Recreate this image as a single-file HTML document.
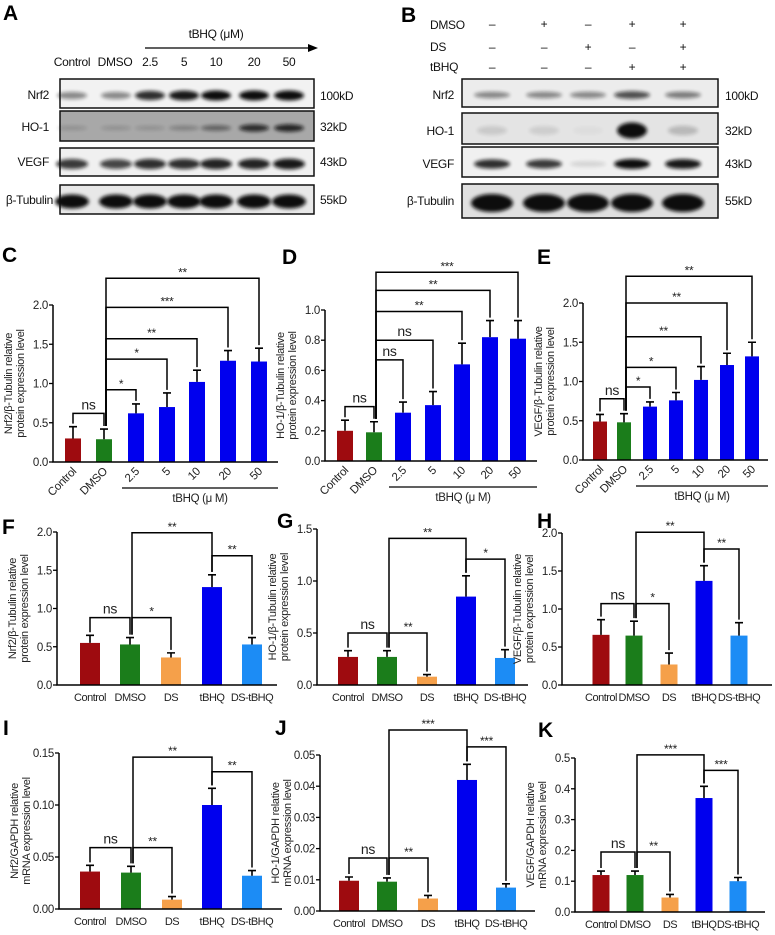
<!DOCTYPE html>
<html><head><meta charset="utf-8">
<style>
html,body{margin:0;padding:0;background:#fff;}
svg{display:block;font-family:"Liberation Sans",Arial,sans-serif;}
svg text{letter-spacing:-0.3px;}
</style></head>
<body>
<svg id="fig" width="775" height="935" viewBox="0 0 775 935" xmlns="http://www.w3.org/2000/svg">
<defs>
<filter id="blur" x="-30%" y="-80%" width="160%" height="260%"><feGaussianBlur stdDeviation="1.8"/></filter>
</defs>
</svg>
<script>
// ---------- data ----------
const doseCats = ["Control","DMSO","2.5","5","10","20","50"];
const groupCats = ["Control","DMSO","DS","tBHQ","DS-tBHQ"];
const doseColors = ["#9e0b0f","#1b7d1b","#0000ee","#0000ee","#0000ee","#0000ee","#0000ee"];
const groupColors = ["#9e0b0f","#1b7d1b","#f5a04a","#0000ee","#1c8cf5"];

const cVals = [0.30,0.29,0.62,0.70,1.02,1.29,1.28];
const cErr  = [0.15,0.13,0.12,0.18,0.15,0.13,0.17];
const cTicks = [0,0.5,1.0,1.5,2.0];
const cBrackets = [[0,1,"ns",0.62],[1,2,"*",0.92],[1,3,"*",1.31],[1,4,"**",1.57],[1,5,"***",1.97],[1,6,"**",2.34]];

const dVals = [0.20,0.19,0.32,0.37,0.64,0.82,0.81];
const dErr  = [0.07,0.07,0.07,0.09,0.14,0.11,0.12];
const dTicks = [0,0.2,0.4,0.6,0.8,1.0];
const dBrackets = [[0,1,"ns",0.36],[1,2,"ns",0.67],[1,3,"ns",0.80],[1,4,"**",0.99],[1,5,"**",1.13],[1,6,"***",1.25]];

const eVals = [0.49,0.48,0.68,0.76,1.02,1.21,1.32];
const eErr  = [0.09,0.11,0.06,0.10,0.17,0.15,0.18];
const eTicks = [0,0.5,1.0,1.5,2.0];
const eBrackets = [[0,1,"ns",0.78],[1,2,"*",0.93],[1,3,"*",1.18],[1,4,"**",1.57],[1,5,"**",2.0],[1,6,"**",2.34]];

const fVals = [0.55,0.53,0.36,1.28,0.53];
const fErr  = [0.10,0.09,0.06,0.16,0.09];
const fTicks = [0,0.5,1.0,1.5,2.0];
const fBrackets = [[0,1,"ns",0.88],[1,2,"*",0.88],[1,3,"**",1.99],[3,4,"**",1.69]];

const gVals = [0.27,0.27,0.08,0.85,0.26];
const gErr  = [0.06,0.06,0.02,0.20,0.08];
const gTicks = [0,0.5,1.0,1.5];
const gBrackets = [[0,1,"ns",0.50],[1,2,"**",0.50],[1,3,"**",1.41],[3,4,"*",1.21]];

const hVals = [0.66,0.65,0.27,1.37,0.65];
const hErr  = [0.20,0.19,0.15,0.20,0.17];
const hTicks = [0,0.5,1.0,1.5,2.0];
const hBrackets = [[0,1,"ns",1.07],[1,2,"*",1.07],[1,3,"**",2.01],[3,4,"**",1.79]];

const iVals = [0.036,0.035,0.009,0.100,0.032];
const iErr  = [0.006,0.006,0.003,0.016,0.005];
const iTicks = [0,0.05,0.10,0.15];
const iBrackets = [[0,1,"ns",0.059],[1,2,"**",0.059],[1,3,"**",0.146],[3,4,"**",0.132]];

const jVals = [0.0097,0.0094,0.0040,0.042,0.0075];
const jErr  = [0.0012,0.0012,0.0010,0.005,0.0012];
const jTicks = [0,0.01,0.02,0.03,0.04,0.05];
const jBrackets = [[0,1,"ns",0.017],[1,2,"**",0.017],[1,3,"***",0.058],[3,4,"***",0.0526]];

const kVals = [0.12,0.12,0.047,0.37,0.10];
const kErr  = [0.013,0.013,0.010,0.038,0.012];
const kTicks = [0,0.1,0.2,0.3,0.4,0.5];
const kBrackets = [[0,1,"ns",0.195],[1,2,"**",0.195],[1,3,"***",0.51],[3,4,"***",0.46]];

// ---------- drawing ----------
const svg = document.getElementById('fig');
const NS = "http://www.w3.org/2000/svg";
function mk(tag, attrs, parent){
  const e = document.createElementNS(NS, tag);
  for (const k in attrs) e.setAttribute(k, attrs[k]);
  (parent||svg).appendChild(e);
  return e;
}
function txt(s, attrs, parent){ const e = mk('text', attrs, parent); e.textContent = s; return e; }

function panel(p){
  const g = mk('g', {});
  
  
  const y = v => p.y0 - (v - 0) / p.max * (p.y0 - p.yTop);
  const x = i => p.xs[i];
  p.vals.forEach((v,i)=>{
    const b = mk('rect', {x: x(i)-p.bw/2, y: y(v), width: p.bw, height: p.y0 - y(v), fill: p.colors[i]}, g);
    
    
    const top = y(v + p.err[i]);
    const eb = mk('path', {d:`M${x(i)},${y(v)}V${top}M${x(i)-4},${top}H${x(i)+4}`, stroke:'#000', 'stroke-width':1.6, fill:'none'}, g);
    
    
  });
  const ax = mk('path', {d:`M${p.ax},${p.yTop}V${p.y0}H${p.axEnd}`, stroke:'#000','stroke-width':1.5, fill:'none'}, g);
  
  
  p.ticks.forEach(t=>{
    mk('line', {x1:p.ax-4, x2:p.ax, y1:y(t), y2:y(t), stroke:'#000','stroke-width':1.3}, g);
    const tl = txt(t.toFixed(p.dec), {x:p.ax-5, y:y(t)+4, 'text-anchor':'end','font-size':11.5, fill:'#222'}, g);
    
    
  });
  p.cats.forEach((c,i)=>{
    let l;
    if (p.rot) {
      l = txt(c, {x:x(i)+4, y:p.y0+10, 'text-anchor':'end','font-size':11.5, fill:'#222', transform:`rotate(-45 ${x(i)+4} ${p.y0+10})`}, g);
    } else {
      l = txt(c, {x:x(i), y:p.y0+16, 'text-anchor':'middle','font-size':11, fill:'#222', style:'letter-spacing:-0.5px'}, g);
    }
    
    
  });
  if (p.rot) {
    mk('line', {x1:x(2)-14, x2:p.axEnd, y1:p.y0+26, y2:p.y0+26, stroke:'#000','stroke-width':1.3}, g);
    const gl = txt('tBHQ (μ M)', {x:(x(2)-14+p.axEnd)/2, y:p.y0+40, 'text-anchor':'middle','font-size':11.5, fill:'#222'}, g);
    
    
  }
  const cy = (p.yTop + p.y0)/2;
  p.ytitle.forEach((s,k)=>{
    const tx = p.ax - (k===0 ? 41 : 29);
    const t = txt(s, {x:tx, y:cy, 'text-anchor':'middle','font-size':11, fill:'#222', transform:`rotate(-90 ${tx} ${cy})`}, g);
    
    
  });
  p.br.forEach(b=>{
    const [i,j,lab,lv] = b;
    const yb = y(lv);
    const yi = y(p.vals[i]+p.err[i]) - 3, yj = y(p.vals[j]+p.err[j]) - 3;
    const xi = x(i) + (i===1 && j>1 ? 2 : 0), xj = x(j);
    const br = mk('path', {d:`M${xi},${yi}V${yb}H${xj}V${yj}`, stroke:'#000','stroke-width':1.5, fill:'none'}, g);
    
    
    const isNs = lab==='ns';
    const sl = txt(lab, {x:(xi+xj)/2, y: yb - (isNs?4:2), 'text-anchor':'middle','font-size': isNs?14:12, fill:'#222'}, g);
    
    
  });
  const pl = txt(p.id, {x:p.lx, y:p.ly, 'font-size':21,'font-weight':'bold', fill:'#000'}, g);
  
  
}

const protTitle = n => [n + " relative","protein expression level"];
const mrnaTitle = n => [n + " relative","mRNA expression level"];

panel({id:'C',lx:2,ly:262,ax:53,axEnd:278,yTop:305,y0:462,max:2,dec:1,ticks:cTicks,vals:cVals,err:cErr,br:cBrackets,cats:doseCats,colors:doseColors,xs:[73,104,136,167,197,228,259],bw:16,rot:true,ytitle:protTitle("Nrf2/β-Tubulin")});
panel({id:'D',lx:282,ly:264,ax:325,axEnd:537,yTop:310,y0:461,max:1,dec:1,ticks:dTicks,vals:dVals,err:dErr,br:dBrackets,cats:doseCats,colors:doseColors,xs:[345,374,403,433,462,490,518],bw:16,rot:true,ytitle:protTitle("HO-1/β-Tubulin")});
panel({id:'E',lx:537,ly:264,ax:583,axEnd:768,yTop:303,y0:460,max:2,dec:1,ticks:eTicks,vals:eVals,err:eErr,br:eBrackets,cats:doseCats,colors:doseColors,xs:[600,624,650,676,701,727,752],bw:14,rot:true,ytitle:protTitle("VEGF/β-Tubulin")});
panel({id:'F',lx:2,ly:534,ax:57,axEnd:277,yTop:532,y0:685,max:2,dec:1,ticks:fTicks,vals:fVals,err:fErr,br:fBrackets,cats:groupCats,colors:groupColors,xs:[90,130,171,212,252],bw:20,rot:false,ytitle:protTitle("Nrf2/β-Tubulin")});
panel({id:'G',lx:277,ly:528,ax:317,axEnd:528,yTop:529,y0:685,max:1.5,dec:1,ticks:gTicks,vals:gVals,err:gErr,br:gBrackets,cats:groupCats,colors:groupColors,xs:[348,387,427,466,505],bw:20,rot:false,ytitle:protTitle("HO-1/β-Tubulin")});
panel({id:'H',lx:537,ly:528,ax:562,axEnd:772,yTop:533,y0:685,max:2,dec:1,ticks:hTicks,vals:hVals,err:hErr,br:hBrackets,cats:groupCats,colors:groupColors,xs:[601,634,669,704,739],bw:17,rot:false,ytitle:protTitle("VEGF/β-Tubulin")});
panel({id:'I',lx:3,ly:735,ax:59,axEnd:282,yTop:753,y0:909,max:0.15,dec:2,ticks:iTicks,vals:iVals,err:iErr,br:iBrackets,cats:groupCats,colors:groupColors,xs:[90,131,172,212,252],bw:20,rot:false,ytitle:mrnaTitle("Nrf2/GAPDH")});
panel({id:'J',lx:275,ly:735,ax:320,axEnd:535,yTop:755,y0:911,max:0.05,dec:2,ticks:jTicks,vals:jVals,err:jErr,br:jBrackets,cats:groupCats,colors:groupColors,xs:[349,387,428,467,506],bw:20,rot:false,ytitle:mrnaTitle("HO-1/GAPDH")});
panel({id:'K',lx:538,ly:737,ax:575,axEnd:765,yTop:758,y0:912,max:0.5,dec:1,ticks:kTicks,vals:kVals,err:kErr,br:kBrackets,cats:groupCats,colors:groupColors,xs:[601,635,670,704,738],bw:17,rot:false,ytitle:mrnaTitle("VEGF/GAPDH")});

// ---------- western blots ----------
const aLanes = [72,116,150,184,216,254,289];
const aNrf2 = [0.45,0.45,0.85,0.95,1,1,1];
const aHO1 = [0.15,0.15,0.15,0.25,0.45,0.8,0.85];
const aVEGF = [0.8,0.75,0.85,0.85,0.9,0.9,0.95];
const aTub = [1,1,1,1,1,1,1];
const bLanes = [492,544,588,632,683];
const bNrf2 = [0.45,0.45,0.45,0.7,0.5];
const bHO1 = [0.12,0.1,0.03,1,0.2];
const bVEGF = [0.85,0.8,0.12,1,0.95];
const bTub = [1,1,1,1,1];

function blot(name, x1, x2, y1, y2, lanes, vals, bg, bandH, bw){
  const g = mk('g', {});
  
  
  mk('rect', {x:x1, y:y1, width:x2-x1, height:y2-y1, fill:bg, stroke:'#111','stroke-width':1.5}, g);
  const cy = (y1+y2)/2 + 2;
  lanes.forEach((lx,i)=>{
    mk('ellipse', {cx:lx, cy:cy, rx:bw/2, ry:bandH/2*(0.5+0.5*vals[i]), fill:'#111', opacity:vals[i], filter:'url(#blur)'}, g);
  });
}
function lbl(s, x, y, anchor, size, name){
  const t = txt(s, {x:x, y:y, 'text-anchor':anchor||'start','font-size':size||12, fill:'#111'});
  
  
}
// Panel A
blot('blot-a-nrf2',60,314,79,108,aLanes,aNrf2,'#f2f2f2',10,30);
blot('blot-a-ho1',60,314,111,141,aLanes,aHO1,'#a8a8a8',8,30);
blot('blot-a-vegf',60,314,148,176,aLanes,aVEGF,'#f0f0f0',11,32);
blot('blot-a-tubulin',60,314,185,214,aLanes,aTub,'#e8e8e8',14,34);
lbl('Nrf2',49,99,'end'); lbl('HO-1',49,131,'end'); lbl('VEGF',49,166,'end'); lbl('β-Tubulin',53,204,'end');
lbl('100kD',320,100); lbl('32kD',320,131); lbl('43kD',320,166); lbl('55kD',320,204);
lbl('Control',72,66,'middle',12,'lane-label');
lbl('DMSO',115,66,'middle',12,'lane-label');
['2.5','5','10','20','50'].forEach((s,i)=>lbl(s,aLanes[i+2],66,'middle',12,'lane-label'));
lbl('tBHQ (μM)',216,38,'middle',12,'treatment-label');
mk('path',{d:'M145,48H310',stroke:'#000','stroke-width':1.3});
mk('path',{d:'M308,44L318,48L308,52Z',fill:'#000'});
txt('A',{x:3,y:20,'font-size':21,'font-weight':'bold'});
// Panel B
blot('blot-b-nrf2',462,718,79,107,bLanes,bNrf2,'#ececec',9,36);
blot('blot-b-ho1',462,718,113,144,bLanes,bHO1,'#e4e4e4',16,30);
blot('blot-b-vegf',462,718,147,177,bLanes,bVEGF,'#f0f0f0',10,36);
blot('blot-b-tubulin',462,718,184,218,bLanes,bTub,'#e0e0e0',18,42);
lbl('Nrf2',454,99,'end'); lbl('HO-1',454,135,'end'); lbl('VEGF',454,168,'end'); lbl('β-Tubulin',454,205,'end');
lbl('100kD',725,100); lbl('32kD',725,135); lbl('43kD',725,168); lbl('55kD',725,205);
lbl('DMSO',430,29,'start',12,'row-label'); lbl('DS',430,51,'start',12,'row-label'); lbl('tBHQ',430,71,'start',12,'row-label');
const bSigns = [["–","+","–","+","+"],["–","–","+","–","+"],["–","–","–","+","+"]];
bSigns.forEach((row,r)=>row.forEach((s,i)=>lbl(s,bLanes[i],[28,51,71][r],'middle',12,'sign')));
txt('B',{x:401,y:22,'font-size':21,'font-weight':'bold'});
</script>
</body></html>
